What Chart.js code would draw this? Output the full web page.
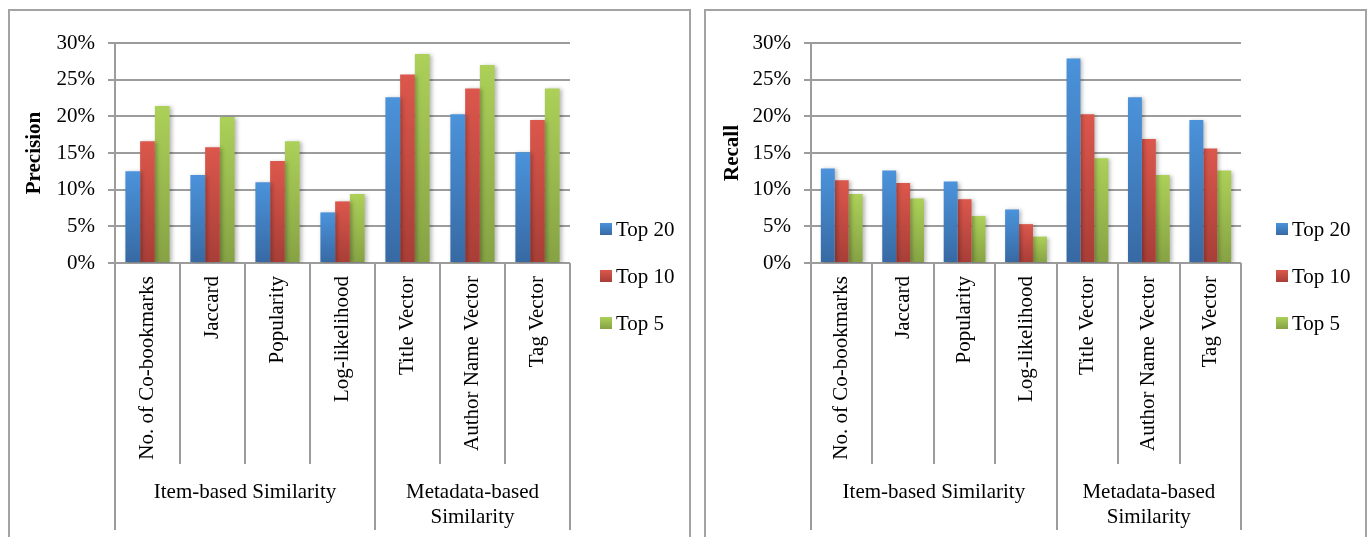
<!DOCTYPE html>
<html>
<head>
<meta charset="utf-8">
<script src="https://cdn.jsdelivr.net/npm/chart.js@4"></script>
<style>
  html, body { margin: 0; padding: 0; background: #fff; width: 1369px; height: 537px; overflow: hidden; }
  .frame { position: absolute; top: 9px; height: 540px; border: 2px solid #a3a3a3; }
  #precisionFrame { left: 8px; width: 679px; }
  #recallFrame { left: 704px; width: 659px; }
  canvas { display: block; }
</style>
</head>
<body>
<div class="frame" id="precisionFrame"><canvas id="precisionChart" width="679" height="526"></canvas></div>
<div class="frame" id="recallFrame"><canvas id="recallChart" width="659" height="526"></canvas></div>
<script>
// Similarity measures on the category axis, and the two groups they belong to
const categories = ['No. of Co-bookmarks', 'Jaccard', 'Popularity', 'Log-likelihood', 'Title Vector', 'Author Name Vector', 'Tag Vector'];
const groupLabels = [['Item-based Similarity'], ['Metadata-based', 'Similarity']];
const groupSizes = [4, 3];

// Recommendation list sizes
const seriesNames = ['Top 20', 'Top 10', 'Top 5'];

// Precision (%)
const precisionTop20 = [12.5, 12.0, 11.0, 6.9, 22.6, 20.3, 15.1];
const precisionTop10 = [16.6, 15.8, 13.9, 8.4, 25.7, 23.8, 19.5];
const precisionTop5  = [21.4, 19.9, 16.6, 9.4, 28.5, 27.0, 23.8];

// Recall (%)
const recallTop20 = [12.9, 12.6, 11.1, 7.3, 27.9, 22.6, 19.5];
const recallTop10 = [11.3, 10.9, 8.7, 5.3, 20.3, 16.9, 15.6];
const recallTop5  = [9.4, 8.8, 6.4, 3.6, 14.3, 12.0, 12.6];

// Value axis
const yMin = 0, yMax = 30, yStep = 5;

const SERIF = '"Liberation Serif", "Times New Roman", serif';
const LINE = '#9c9c9c';
const seriesColors = [
  ['#4b93db', '#3769a3'],
  ['#dc574c', '#a73e37'],
  ['#acd058', '#86a244']
];

Chart.defaults.color = '#000';
Chart.defaults.font.family = SERIF;

// vertical gradient from the top of each bar down to the baseline
function barFill(top, bottom) {
  return (c) => {
    const chart = c.chart;
    if (c.type !== 'data' || !chart.chartArea || !c.parsed) return top;
    const ys = chart.scales.y;
    const y0 = ys.getPixelForValue(c.parsed.y);
    const y1 = ys.getPixelForValue(0);
    if (!isFinite(y0) || !isFinite(y1) || y0 === y1) return top;
    const g = chart.ctx.createLinearGradient(0, y0, 0, y1);
    g.addColorStop(0, top);
    g.addColorStop(1, bottom);
    return g;
  };
}

// soft drop shadow behind the bars
const barShadow = {
  id: 'barShadow',
  beforeDatasetsDraw(chart) {
    const ctx = chart.ctx;
    ctx.save();
    ctx.shadowColor = 'rgba(0,0,0,0.28)';
    ctx.shadowBlur = 4;
    ctx.shadowOffsetX = 2;
    ctx.shadowOffsetY = 1;
  },
  afterDatasetsDraw(chart) { chart.ctx.restore(); }
};

// category separators below the axis and the two-level group labels
const groupAxis = {
  id: 'groupAxis',
  afterDraw(chart, args, opts) {
    const ctx = chart.ctx;
    const xs = chart.scales.x;
    const area = chart.chartArea;
    const w = xs.getPixelForValue(1) - xs.getPixelForValue(0);
    const edge = (i) => xs.getPixelForValue(i) - w / 2;
    const groupEdges = [0];
    groupSizes.forEach((s, k) => groupEdges.push(groupEdges[k] + s));

    ctx.save();
    ctx.strokeStyle = LINE;
    ctx.lineWidth = 2;
    for (let i = 0; i <= categories.length; i++) {
      const x = Math.round(edge(i));
      const isGroup = groupEdges.includes(i);
      ctx.beginPath();
      ctx.moveTo(x, area.bottom);
      ctx.lineTo(x, isGroup ? opts.groupEnd : opts.innerEnd);
      ctx.stroke();
    }
    ctx.fillStyle = '#000';
    ctx.font = '21px ' + SERIF;
    ctx.textAlign = 'center';
    ctx.textBaseline = 'middle';
    groupLabels.forEach((lines, k) => {
      const cx = (edge(groupEdges[k]) + edge(groupEdges[k + 1])) / 2;
      lines.forEach((t, j) => ctx.fillText(t, cx, opts.labelY + j * 25));
    });
    ctx.restore();
  }
};

// legend with gradient swatches to the right of the plot
const sideLegend = {
  id: 'sideLegend',
  afterDraw(chart, args, opts) {
    const ctx = chart.ctx;
    const x = chart.chartArea.right + opts.offsetX;
    ctx.save();
    ctx.font = '21px ' + SERIF;
    ctx.textBaseline = 'middle';
    ctx.textAlign = 'left';
    chart.data.datasets.forEach((ds, i) => {
      const cy = opts.firstY + i * opts.spacing;
      const g = ctx.createLinearGradient(0, cy - 6, 0, cy + 6);
      g.addColorStop(0, seriesColors[i][0]);
      g.addColorStop(1, seriesColors[i][1]);
      ctx.fillStyle = g;
      ctx.fillRect(x, cy - 6, 12, 12);
      ctx.fillStyle = '#000';
      ctx.fillText(ds.label, x + 16, cy + 1);
    });
    ctx.restore();
  }
};

function makeChart(id, title, values, opt) {
  const canvas = document.getElementById(id);
  return new Chart(canvas, {
    type: 'bar',
    data: {
      labels: categories,
      datasets: values.map((v, i) => ({
        label: seriesNames[i],
        data: v,
        backgroundColor: barFill(seriesColors[i][0], seriesColors[i][1]),
        borderWidth: 0,
        categoryPercentage: 0.68,
        barPercentage: 1.0
      }))
    },
    options: {
      responsive: false,
      animation: false,
      devicePixelRatio: 1,
      layout: { padding: { top: 32, right: canvas.width - opt.plotRight, left: 0, bottom: 0 } },
      plugins: {
        legend: { display: false },
        tooltip: { enabled: false },
        groupAxis: { innerEnd: 453, groupEnd: 519, labelY: 481 },
        sideLegend: { offsetX: opt.legendOffset, firstY: 218, spacing: 47 }
      },
      scales: {
        x: {
          offset: true,
          grid: { display: false },
          border: { display: false },
          ticks: {
            autoSkip: false,
            minRotation: 90,
            maxRotation: 90,
            padding: 5,
            font: { size: 21, family: SERIF }
          },
          afterFit(scale) { scale.height = 274; }
        },
        y: {
          min: yMin,
          max: yMax,
          ticks: {
            stepSize: yStep,
            padding: 13,
            font: { size: 21, family: SERIF },
            callback: (v) => v + '%'
          },
          grid: { color: LINE, lineWidth: 2, tickLength: 7, drawTicks: true },
          border: { display: true, color: LINE, width: 2 },
          title: {
            display: true,
            text: title,
            font: { size: 21, weight: 'bold', family: SERIF },
            padding: { top: opt.titlePad, bottom: 0 }
          },
          afterFit(scale) { scale.width = 105; }
        }
      }
    },
    plugins: [barShadow, groupAxis, sideLegend]
  });
}

makeChart('precisionChart', 'Precision', [precisionTop20, precisionTop10, precisionTop5],
  { plotRight: 560, legendOffset: 30, titlePad: 12 });
makeChart('recallChart', 'Recall', [recallTop20, recallTop10, recallTop5],
  { plotRight: 535, legendOffset: 35, titlePad: 14 });
</script>
</body>
</html>
